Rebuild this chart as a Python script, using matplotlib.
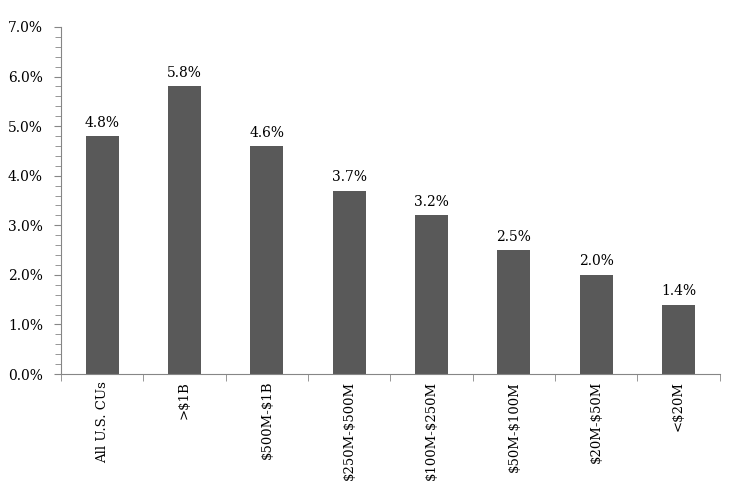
import numpy as np
import matplotlib
matplotlib.use('Agg')
import matplotlib.pyplot as plt
from matplotlib.ticker import MultipleLocator, FixedLocator, FuncFormatter

categories = ['All U.S. CUs', '>$1B', '$500M-$1B', '$250M-$500M',
              '$100M-$250M', '$50M-$100M', '$20M-$50M', '<$20M']
values = [4.8, 5.8, 4.6, 3.7, 3.2, 2.5, 2.0, 1.4]

plt.rcParams['font.family'] = ['DejaVu Serif']
plt.rcParams['text.parse_math'] = False

fig = plt.figure(figsize=(7.3, 5), dpi=100)
ax = fig.add_axes([0.0836, 0.252, 0.9024, 0.694])

x = np.arange(len(categories))
ax.bar(x, values, width=0.4, color='#595959')

for xi, v in zip(x, values):
    ax.text(xi, v + 0.13, '%.1f%%' % v, ha='center', va='bottom', fontsize=10)

ax.set_xlim(-0.5, len(categories) - 0.5)
ax.set_ylim(0, 7)
ax.yaxis.set_major_locator(MultipleLocator(1))
ax.yaxis.set_minor_locator(MultipleLocator(0.2))
ax.yaxis.set_major_formatter(FuncFormatter(lambda v, p: '%.1f%%' % v))

ax.set_xticks(x)
ax.set_xticklabels(categories, rotation=90, fontsize=9.5)
ax.xaxis.set_minor_locator(FixedLocator(np.arange(len(categories) + 1) - 0.5))
ax.tick_params(axis='x', which='major', length=0, pad=5)
ax.tick_params(axis='x', which='minor', length=5, color='#868686')
ax.tick_params(axis='y', which='major', length=5, color='#868686', labelsize=10, pad=8)
ax.tick_params(axis='y', which='minor', length=4, color='#868686')

for s in ['top', 'right']:
    ax.spines[s].set_visible(False)
for s in ['left', 'bottom']:
    ax.spines[s].set_color('#868686')

fig.savefig('out.png', dpi=100, facecolor='white')
